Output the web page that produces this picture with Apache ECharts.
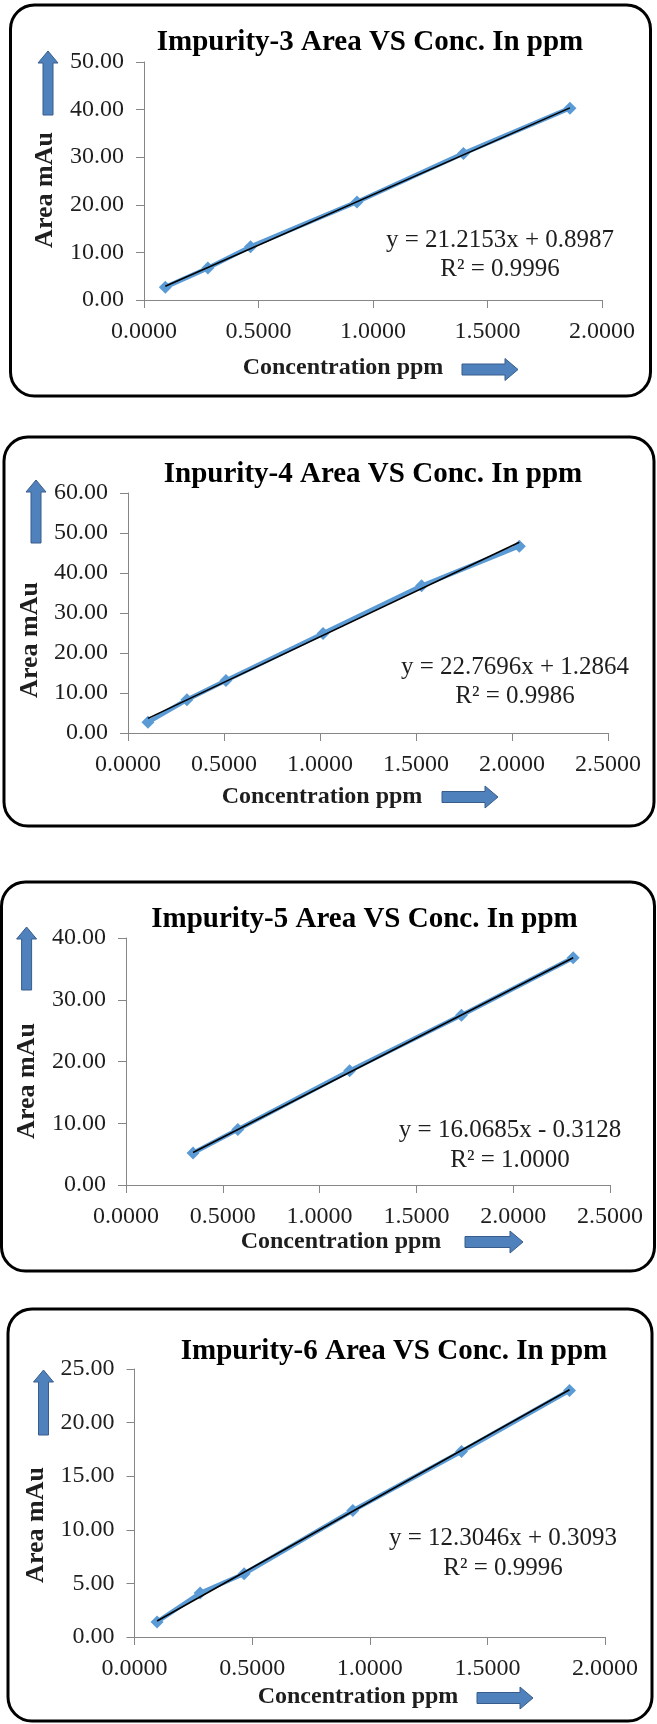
<!DOCTYPE html>
<html><head><meta charset="utf-8">
<script src="https://cdn.jsdelivr.net/npm/echarts@6/dist/echarts.min.js"></script>
<style>html,body{margin:0;padding:0;background:#fff}#c{width:657px;height:1724px}</style>
</head><body><div id="c"></div><script>
// ---- data ----
const titles = ['Impurity-3 Area VS Conc. In ppm', 'Inpurity-4 Area VS Conc. In ppm', 'Impurity-5 Area VS Conc. In ppm', 'Impurity-6 Area VS Conc. In ppm'];
const xAxisName = 'Concentration ppm';
const yAxisName = 'Area mAu';
const equations = ['y = 21.2153x + 0.8987', 'y = 22.7696x + 1.2864', 'y = 16.0685x - 0.3128', 'y = 12.3046x + 0.3093'];
const rSquared = ['R\u00B2 = 0.9996', 'R\u00B2 = 0.9986', 'R\u00B2 = 1.0000', 'R\u00B2 = 0.9996'];

const imp3Conc = [0.093, 0.279, 0.465, 0.930, 1.395, 1.860];
const imp3Area = [2.7, 6.7, 11.2, 20.6, 30.8, 40.3];
const imp3Trend = [[0.093, 2.87], [1.860, 40.36]];

const imp4Conc = [0.104, 0.307, 0.510, 1.016, 1.529, 2.038];
const imp4Area = [2.7, 8.3, 13.1, 24.9, 36.8, 46.7];
const imp4Trend = [[0.104, 3.65], [2.038, 47.69]];

const imp5Conc = [0.3465, 0.5775, 1.155, 1.7325, 2.310];
const imp5Area = [5.2, 9.0, 18.5, 27.5, 36.8];
const imp5Trend = [[0.3465, 5.26], [2.310, 36.81]];

const imp6Conc = [0.096, 0.279, 0.466, 0.928, 1.390, 1.849];
const imp6Area = [1.4, 4.1, 5.9, 11.8, 17.3, 23.0];
const imp6Trend = [[0.096, 1.49], [1.849, 23.06]];

const xMaxes = [2, 2.5, 2.5, 2];
const yMaxes = [50, 60, 40, 25];
const yIntervals = [10, 10, 10, 5];
const xInterval = 0.5;

const concs = [imp3Conc, imp4Conc, imp5Conc, imp6Conc];
const areas = [imp3Area, imp4Area, imp5Area, imp6Area];
const trends = [imp3Trend, imp4Trend, imp5Trend, imp6Trend];

// ---- layout (positions only) ----
const L = [
  {box:[10.5,5,640,391], g:{l:144,t:62,r:602,b:300}, title:[370,43], yn:[45,190], xn:[343,368], eq:[500,240], r2:[500,269], up:[48,51,115], rt:[462,369.5,518]},
  {box:[4,437,650,389], g:{l:128,t:493,r:608,b:733}, title:[373,475], yn:[33.5,640], xn:[322,797], eq:[515,667], r2:[515,696], up:[36,480,543], rt:[442,797,498]},
  {box:[1.5,882,653,389], g:{l:126,t:938,r:610,b:1185}, title:[364.5,920], yn:[27,1081], xn:[341,1242], eq:[510,1130], r2:[510,1160], up:[26.6,927,990], rt:[465,1242,523]},
  {box:[8,1309,644,412], g:{l:134.5,t:1369,r:605,b:1637}, title:[394,1352], yn:[41,1525], xn:[358,1697], eq:[503,1538], r2:[503,1568], up:[43.5,1370,1435], rt:[477,1698,533]}
];

const FONT = '"Liberation Serif", "Times New Roman", serif';
const AXIS_COLOR = '#868686';
const TEXT_COLOR = '#1e1e1e';
const BLUE = '#5B9BD5';
const ARROW_FILL = '#4F81BD';
const ARROW_STROKE = '#385D8A';

const grids = [], xAxes = [], yAxes = [], series = [], graphics = [];

L.forEach((p, i) => {
  const g = p.g;
  grids.push({left: g.l, top: g.t, width: g.r - g.l, height: g.b - g.t, containLabel: false});
  const dx = p.xn[0] - (g.l + g.r) / 2;
  xAxes.push({
    type: 'value', gridIndex: i, min: 0, max: xMaxes[i], interval: xInterval,
    name: xAxisName, nameLocation: 'middle', nameGap: p.xn[1] - g.b - 12,
    nameTextStyle: {fontFamily: FONT, fontWeight: 'bold', fontSize: 24, lineHeight: 24, color: TEXT_COLOR,
      padding: dx < 0 ? [0, -2 * dx, 0, 0] : [0, 0, 0, 2 * dx]},
    axisLine: {show: true, onZero: false, lineStyle: {color: AXIS_COLOR, width: 1}},
    axisTick: {show: true, inside: false, length: 8, lineStyle: {color: AXIS_COLOR}},
    splitLine: {show: false},
    axisLabel: {margin: 20, fontFamily: FONT, fontSize: 24, lineHeight: 24, color: TEXT_COLOR,
      formatter: v => v.toFixed(4), showMinLabel: true, showMaxLabel: true}
  });
  const dy = p.yn[1] - (g.t + g.b) / 2;
  yAxes.push({
    type: 'value', gridIndex: i, min: 0, max: yMaxes[i], interval: yIntervals[i],
    name: yAxisName, nameLocation: 'middle', nameRotate: 90, nameGap: g.l - p.yn[0] - 13,
    nameTextStyle: {fontFamily: FONT, fontWeight: 'bold', fontSize: 26, lineHeight: 26, color: TEXT_COLOR,
      padding: dy > 0 ? [0, 2 * dy, 0, 0] : [0, 0, 0, -2 * dy]},
    axisLine: {show: true, lineStyle: {color: AXIS_COLOR, width: 1}},
    axisTick: {show: true, inside: false, length: 8, lineStyle: {color: AXIS_COLOR}},
    splitLine: {show: false},
    axisLabel: {margin: 20, fontFamily: FONT, fontSize: 24, color: TEXT_COLOR,
      formatter: v => v.toFixed(2), showMinLabel: true, showMaxLabel: true}
  });
  series.push({
    type: 'line', xAxisIndex: i, yAxisIndex: i,
    data: concs[i].map((x, k) => [x, areas[i][k]]),
    symbol: 'diamond', symbolSize: 13, showSymbol: true,
    lineStyle: {color: BLUE, width: 4.5}, itemStyle: {color: BLUE},
    z: 2, silent: true
  });
  series.push({
    type: 'line', xAxisIndex: i, yAxisIndex: i,
    data: trends[i], symbol: 'none',
    lineStyle: {color: '#000', width: 1.6}, z: 3, silent: true
  });

  // frame
  graphics.push({type: 'rect', shape: {x: p.box[0], y: p.box[1], width: p.box[2], height: p.box[3], r: 24},
    style: {fill: 'none', stroke: '#000', lineWidth: 3}, silent: true, z: 0});
  // title
  graphics.push({type: 'text', x: p.title[0], y: p.title[1],
    style: {text: titles[i], font: 'bold 29px ' + FONT, fill: '#000', align: 'center', verticalAlign: 'middle'}, z: 10});
  // equation
  graphics.push({type: 'text', x: p.eq[0], y: p.eq[1],
    style: {text: equations[i], font: '25px ' + FONT, fill: TEXT_COLOR, align: 'center', verticalAlign: 'middle'}, z: 10});
  graphics.push({type: 'text', x: p.r2[0], y: p.r2[1],
    style: {text: rSquared[i], font: '25px ' + FONT, fill: TEXT_COLOR, align: 'center', verticalAlign: 'middle'}, z: 10});
  // up arrow
  const [cx, t, b] = p.up;
  graphics.push({type: 'polygon', shape: {points: [[cx, t], [cx + 10, t + 12], [cx + 5, t + 12], [cx + 5, b], [cx - 5, b], [cx - 5, t + 12], [cx - 10, t + 12]]},
    style: {fill: ARROW_FILL, stroke: ARROW_STROKE, lineWidth: 1}, z: 10});
  // right arrow
  const [x0, cy, x1] = p.rt;
  graphics.push({type: 'polygon', shape: {points: [[x0, cy - 5.5], [x1 - 13, cy - 5.5], [x1 - 13, cy - 11], [x1, cy], [x1 - 13, cy + 11], [x1 - 13, cy + 5.5], [x0, cy + 5.5]]},
    style: {fill: ARROW_FILL, stroke: ARROW_STROKE, lineWidth: 1}, z: 10});
});

const chart = echarts.init(document.getElementById('c'), null, {renderer: 'canvas'});
chart.setOption({
  animation: false,
  backgroundColor: '#fff',
  grid: grids, xAxis: xAxes, yAxis: yAxes, series: series,
  graphic: {elements: graphics}
});
</script></body></html>
